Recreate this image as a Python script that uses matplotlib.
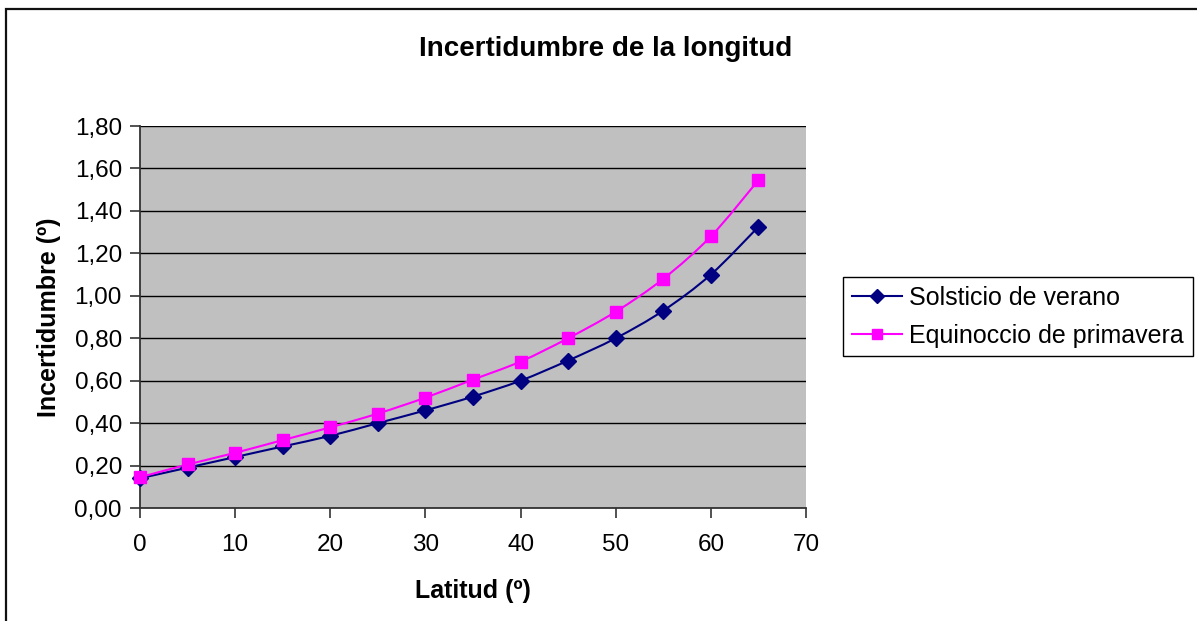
import numpy as np
import matplotlib
matplotlib.use("Agg")
import matplotlib.pyplot as plt
from matplotlib.path import Path
from matplotlib.patches import PathPatch, Rectangle
from matplotlib.lines import Line2D
from matplotlib.ticker import FuncFormatter

# Data
latitud = [0, 5, 10, 15, 20, 25, 30, 35, 40, 45, 50, 55, 60, 65]
solsticio_verano = [0.14, 0.19, 0.24, 0.29, 0.34, 0.40, 0.46, 0.525, 0.60, 0.695, 0.80, 0.93, 1.10, 1.325]
equinoccio_primavera = [0.145, 0.205, 0.26, 0.32, 0.38, 0.445, 0.52, 0.605, 0.69, 0.80, 0.925, 1.08, 1.28, 1.545]
series_names = ["Solsticio de verano", "Equinoccio de primavera"]
x_ticks = [0, 10, 20, 30, 40, 50, 60, 70]
y_ticks = [0.0, 0.2, 0.4, 0.6, 0.8, 1.0, 1.2, 1.4, 1.6, 1.8]

plt.rcParams['font.family'] = ['Liberation Sans', 'DejaVu Sans']
FS_TICK = 17.5
FS_LABEL = 18
FS_LEG = 18
FS_TITLE = 20

W, H = 1197, 621
fig = plt.figure(figsize=(W / 100, H / 100), dpi=100)
fig.patch.set_facecolor('white')

# outer chart border (continues past right and bottom edges)
fig.add_artist(Rectangle((6 / W, -0.05), 1.2, 1 - 9 / H + 0.05, transform=fig.transFigure,
                         fill=False, edgecolor='#111111', linewidth=1.6))

ax = fig.add_axes([140 / W, 1 - 508 / H, (806 - 140) / W, (508 - 126) / H])
ax.set_facecolor('#C0C0C0')
ax.set_xlim(0, 70)
ax.set_ylim(0, 1.8)
ax.set_xticks(x_ticks)
ax.set_yticks(y_ticks)
ax.yaxis.set_major_formatter(FuncFormatter(lambda v, p: f"{v:.2f}".replace('.', ',')))
ax.grid(axis='y', color='#000000', linewidth=1.0)
ax.set_axisbelow(True)
for side in ['top', 'right']:
    ax.spines[side].set_visible(False)
for side in ['left', 'bottom']:
    ax.spines[side].set_color('#333333')
    ax.spines[side].set_linewidth(1.3)
ax.tick_params(axis='both', direction='out', length=7, width=1.2, color='#333333',
               labelsize=FS_TICK)
ax.tick_params(axis='x', pad=12)
ax.tick_params(axis='y', pad=6)


def smooth_path(xs, ys):
    """Cubic Bezier path through the points, Catmull-Rom style tangents."""
    pts = np.column_stack([xs, ys]).astype(float)
    n = len(pts)
    verts = [pts[0]]
    codes = [Path.MOVETO]
    for i in range(n - 1):
        p0 = pts[i - 1] if i > 0 else pts[i]
        p1 = pts[i]
        p2 = pts[i + 1]
        p3 = pts[i + 2] if i + 2 < n else pts[i + 1]
        c1 = p1 + (p2 - p0) / 6.0
        c2 = p2 - (p3 - p1) / 6.0
        verts += [c1, c2, p2]
        codes += [Path.CURVE4] * 3
    return Path(verts, codes)


styles = [
    dict(color='#000080', marker='D', ms=8.5),
    dict(color='#FF00FF', marker='s', ms=8.5),
]
for ys, st in zip([solsticio_verano, equinoccio_primavera], styles):
    ax.add_patch(PathPatch(smooth_path(latitud, ys), facecolor='none',
                           edgecolor=st['color'], linewidth=1.5, zorder=3))
    ax.plot(latitud, ys, linestyle='none', marker=st['marker'], markersize=st['ms'],
            color=st['color'], markeredgecolor=st['color'], zorder=4, clip_on=False)

ax.set_xlabel('Latitud (º)', fontsize=FS_LABEL, fontweight='bold', labelpad=16)
ax.set_ylabel('Incertidumbre (º)', fontsize=FS_LABEL, fontweight='bold', labelpad=10)
fig.text(606 / W, 1 - 49 / H, 'Incertidumbre de la longitud', fontsize=FS_TITLE,
         fontweight='bold', ha='center', va='center')

handles = [Line2D([], [], color=st['color'], marker=st['marker'], markersize=st['ms'] - 1.5,
                  linewidth=1.5) for st in styles]
leg = fig.legend(handles, series_names, loc='upper left',
                 bbox_to_anchor=(843 / W, 1 - 277 / H), fontsize=FS_LEG,
                 frameon=True, fancybox=False, edgecolor='#000000', framealpha=1,
                 borderpad=0.35, labelspacing=0.55, handlelength=2.0, handletextpad=0.3,
                 borderaxespad=0)
leg.get_frame().set_linewidth(1.0)

fig.savefig('out.png', dpi=100)
